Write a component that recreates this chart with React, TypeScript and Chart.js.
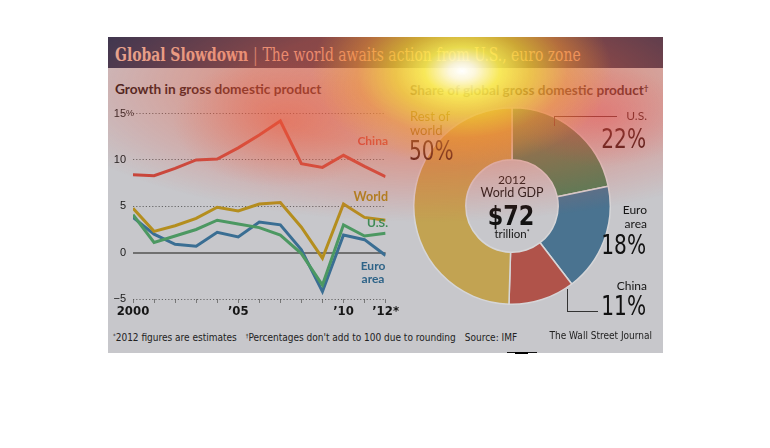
import React, { useEffect, useRef } from "react";
import { Chart, registerables } from "chart.js";

Chart.register(...registerables);

// ---------- data ----------
const years = [2000, 2001, 2002, 2003, 2004, 2005, 2006, 2007, 2008, 2009, 2010, 2011, 2012];
const chinaGrowth = [8.4, 8.3, 9.1, 10.0, 10.1, 11.3, 12.7, 14.2, 9.6, 9.2, 10.5, 9.3, 8.2];
const worldGrowth = [4.8, 2.3, 2.9, 3.7, 4.9, 4.5, 5.25, 5.4, 2.75, -0.6, 5.25, 3.8, 3.5];
const usGrowth = [4.1, 1.1, 1.8, 2.5, 3.5, 3.1, 2.7, 1.9, -0.1, -3.5, 3.0, 1.8, 2.1];
const euroGrowth = [3.8, 2.0, 0.9, 0.7, 2.2, 1.7, 3.3, 3.0, 0.3, -4.2, 1.9, 1.4, -0.3];

const yTickValues = [-5, 0, 5, 10, 15];
const yTickLabels = ["\u22125", "0", "5", "10", "15"];
const xLabelYears = [2000, 2005, 2010, 2012];
const xLabelTexts = ["2000", "\u201905", "\u201910", "\u201912*"];

const shareLabels = ["U.S.", "Euro area", "China", "Rest of world"];
const shareValues = [22, 18, 11, 50];
const worldGdpTrillions = 72;

// ---------- styles ----------
const LINE_COLORS = { china: "#c8463b", world: "#b48e1e", us: "#4c9862", euro: "#3a6e93" };
const SLICE_COLORS = ["#4f7e57", "#4a7390", "#b0534a", "#c2a352"];
const SANS = "Lato, 'Open Sans', 'Noto Sans', sans-serif";
const NARROW = "'Liberation Sans Narrow', 'DejaVu Sans Condensed', 'Roboto', sans-serif";
const REG = "'Liberation Sans', Arial, sans-serif";
const SLAB = "'DejaVu Serif Condensed', 'DejaVu Serif', serif";

const OX = 108;
const OY = 37;

type TxtProps = {
  x: number;
  y: number; // baseline, page coords
  size: number;
  children: React.ReactNode;
  weight?: number;
  color?: string;
  align?: "left" | "right" | "center";
  font?: string;
  ls?: number;
  sx?: number;
};

function Txt({ x, y, size, children, weight = 400, color = "#1b1b1b", align = "left", font = SANS, ls, sx }: TxtProps) {
  let tx = align === "right" ? "translateX(-100%)" : align === "center" ? "translateX(-50%)" : "";
  if (sx) tx += ` scaleX(${sx})`;
  const origin = align === "right" ? "right" : align === "center" ? "center" : "left";
  return (
    <div
      style={{
        position: "absolute",
        left: x - OX,
        top: y - OY - 0.88 * size,
        fontSize: size,
        lineHeight: `${size}px`,
        fontFamily: font,
        fontWeight: weight,
        color,
        whiteSpace: "nowrap",
        transform: tx || "none",
        transformOrigin: `${origin} center`,
        letterSpacing: ls,
        textAlign: align,
      }}
    >
      {children}
    </div>
  );
}

function LineChart() {
  const ref = useRef<HTMLCanvasElement | null>(null);
  useEffect(() => {
    if (!ref.current) return;
    const percentPlugin = {
      id: "percentSign",
      afterDraw(chart: any) {
        const y = chart.scales.y;
        const ctx = chart.ctx;
        ctx.save();
        ctx.font = `9px ${REG}`;
        ctx.fillStyle = "#1b1b1b";
        ctx.textAlign = "left";
        ctx.textBaseline = "middle";
        ctx.fillText("%", chart.chartArea.left - 7, y.getPixelForValue(15) - 0.5);
        ctx.restore();
      },
    };
    const mk = (data: number[], color: string) => ({
      data: years.map((yr, i) => ({ x: yr, y: data[i] })),
      borderColor: color,
      borderWidth: 3,
      pointRadius: 0,
      tension: 0,
      fill: false,
      borderJoinStyle: "miter" as const,
    });
    const chart = new Chart(ref.current, {
      type: "line",
      data: {
        datasets: [
          mk(chinaGrowth, LINE_COLORS.china),
          mk(worldGrowth, LINE_COLORS.world),
          mk(usGrowth, LINE_COLORS.us),
          mk(euroGrowth, LINE_COLORS.euro),
        ],
      },
      options: {
        animation: false,
        responsive: false,
        maintainAspectRatio: false,
        events: [],
        layout: { padding: { top: 11, right: 10, left: 0, bottom: 0 } },
        plugins: { legend: { display: false }, tooltip: { enabled: false } },
        scales: {
          x: {
            type: "linear",
            min: years[0],
            max: years[years.length - 1],
            afterFit: (s: any) => {
              s.height = 23;
            },
            afterBuildTicks: (s: any) => {
              s.ticks = years.map((v) => ({ value: v }));
            },
            ticks: {
              autoSkip: false,
              maxRotation: 0,
              padding: 1,
              color: "#161616",
              font: { family: NARROW, size: 13, weight: "bold" },
              callback: (v: any) => {
                const i = xLabelYears.indexOf(Number(v));
                return i >= 0 ? xLabelTexts[i] : "";
              },
            },
            grid: {
              drawOnChartArea: false,
              drawTicks: true,
              tickLength: 4,
              tickColor: "#777",
              tickWidth: 1,
            },
            border: { display: false },
          },
          y: {
            min: -5,
            max: 15,
            afterFit: (s: any) => {
              s.width = 25;
            },
            afterBuildTicks: (s: any) => {
              s.ticks = yTickValues.map((v) => ({ value: v }));
            },
            ticks: {
              padding: 7,
              color: "#1b1b1b",
              font: { family: REG, size: 11 },
              callback: (v: any) => {
                const i = yTickValues.indexOf(Number(v));
                return i >= 0 ? yTickLabels[i] : "";
              },
            },
            grid: {
              drawTicks: false,
              color: (c: any) => (c.tick && c.tick.value === 0 ? "#707070" : "rgba(85,85,85,0.85)"),
              lineWidth: (c: any) => (c.tick && c.tick.value === 0 ? 2 : 1),
            },
            border: {
              display: false,
              dash: (c: any) => (c.tick && c.tick.value === 0 ? [] : [1.2, 2]),
            },
          },
        },
      },
      plugins: [percentPlugin],
    } as any);
    return () => chart.destroy();
  }, []);
  return (
    <canvas
      ref={ref}
      width={292}
      height={222}
      style={{ position: "absolute", left: 108 - OX, top: 100 - OY, width: 292, height: 222 }}
    />
  );
}

function Donut() {
  const ref = useRef<HTMLCanvasElement | null>(null);
  useEffect(() => {
    if (!ref.current) return;
    const chart = new Chart(ref.current, {
      type: "doughnut",
      data: {
        labels: shareLabels,
        datasets: [
          {
            data: shareValues,
            backgroundColor: SLICE_COLORS,
            borderColor: "#d6d6d8",
            borderWidth: 1.5,
          },
        ],
      },
      options: {
        animation: false,
        responsive: false,
        maintainAspectRatio: false,
        events: [],
        cutout: "47%",
        layout: { padding: 0 },
        plugins: { legend: { display: false }, tooltip: { enabled: false } },
      },
    } as any);
    return () => chart.destroy();
  }, []);
  return (
    <canvas
      ref={ref}
      width={198}
      height={198}
      style={{ position: "absolute", left: 413 - OX, top: 107 - OY, width: 198, height: 198 }}
    />
  );
}

export default function App() {
  const sup = { fontSize: "0.6em", verticalAlign: "0.5em" } as React.CSSProperties;
  return (
    <>
      <div
        style={{
          position: "absolute",
          left: OX,
          top: OY,
          width: 555,
          height: 316,
          background: "#c7c7cb",
          overflow: "hidden",
        }}
      >
        {/* header */}
        <div style={{ position: "absolute", left: 0, top: 0, width: 555, height: 31, background: "#2c3350" }} />
        <Txt x={115} y={62} size={18} font={SLAB} color="#e7b29a" weight={700} sx={0.86}>
          Global Slowdown <span style={{ fontWeight: 400, opacity: 0.8 }}>|</span>{" "}
          <span style={{ fontWeight: 400 }}>The world awaits action from U.S., euro zone</span>
        </Txt>

        {/* section titles */}
        <Txt x={115} y={94} size={13.7} weight={700} color="#2a1616">
          Growth in gross domestic product
        </Txt>
        <Txt x={410} y={94} size={13.6} weight={700} color="#2a1616">
          Share of global gross domestic product<span style={sup}>†</span>
        </Txt>

        <LineChart />

        {/* line labels */}
        <Txt x={388} y={146} size={12} weight={700} color={LINE_COLORS.china} align="right">
          China
        </Txt>
        <Txt x={388} y={202} size={12.5} weight={700} color="#a8841a" align="right">
          World
        </Txt>
        <Txt x={388} y={228} size={12} weight={700} color="#3f8a56" align="right">
          U.S.
        </Txt>
        <Txt x={373} y={271} size={12} weight={700} color="#2f6488" align="center">
          Euro
        </Txt>
        <Txt x={373} y={284} size={12} weight={700} color="#2f6488" align="center">
          area
        </Txt>

        <Donut />

        {/* donut center */}
        <Txt x={512} y={185} size={12} align="center" color="#161616">
          2012
        </Txt>
        <Txt x={512} y={198} size={12.5} align="center" color="#161616">
          World GDP
        </Txt>
        <Txt x={511} y={226} size={27} weight={700} align="center" color="#111" font={NARROW} sx={0.92}>
          ${worldGdpTrillions}
        </Txt>
        <Txt x={512} y={237} size={11.5} align="center" color="#161616">
          trillion<span style={sup}>*</span>
        </Txt>

        {/* donut labels */}
        <Txt x={410} y={121} size={13} color="#7d6800">
          Rest of
        </Txt>
        <Txt x={410} y={135} size={13} color="#6e5600">
          world
        </Txt>
        <Txt x={409} y={161} size={26} color="#1a0404" font={NARROW} sx={0.86}>
          {shareValues[3]}%
        </Txt>

        <Txt x={647} y={121} size={12} color="#2a1010" align="right">
          {shareLabels[0]}
        </Txt>
        <Txt x={646} y={149} size={26} color="#220a0a" align="right" font={NARROW} sx={0.86}>
          {shareValues[0]}%
        </Txt>

        <Txt x={647} y={215} size={12} color="#161616" align="right">
          Euro
        </Txt>
        <Txt x={647} y={229} size={12} color="#161616" align="right">
          area
        </Txt>
        <Txt x={646} y={255} size={26} color="#111" align="right" font={NARROW} sx={0.86}>
          {shareValues[1]}%
        </Txt>

        <Txt x={647} y={291} size={12} color="#161616" align="right">
          {shareLabels[2]}
        </Txt>
        <Txt x={646} y={316} size={26} color="#111" align="right" font={NARROW} sx={0.86}>
          {shareValues[2]}%
        </Txt>

        {/* leader lines */}
        <div style={{ position: "absolute", left: 554 - OX, top: 116 - OY, width: 63, height: 1, background: "#3a2020" }} />
        <div style={{ position: "absolute", left: 554 - OX, top: 116 - OY, width: 1, height: 10, background: "#3a2020" }} />
        <div style={{ position: "absolute", left: 567 - OX, top: 289 - OY, width: 1, height: 23, background: "#333" }} />
        <div style={{ position: "absolute", left: 567 - OX, top: 311 - OY, width: 31, height: 1, background: "#333" }} />

        {/* footnotes */}
        <Txt x={113} y={340} size={10} font={NARROW} color="#222">
          <span style={sup}>*</span>2012 figures are estimates{"\u2003"}
          <span style={sup}>†</span>Percentages don't add to 100 due to rounding{"\u2003"}Source: IMF
        </Txt>
        <Txt x={652} y={340} size={10} font={NARROW} color="#222" align="right">
          The Wall Street Journal
        </Txt>

        {/* attention heat overlay */}
        <div
          style={{
            position: "absolute",
            inset: 0,
            pointerEvents: "none",
            background: [
              "radial-gradient(ellipse 150px 95px at 354px 34px, rgba(255,255,255,1) 0%, rgba(255,255,225,0.93) 9%, rgba(255,255,80,0.8) 25%, rgba(248,230,40,0.6) 45%, rgba(245,165,45,0.4) 70%, rgba(240,110,60,0) 100%)",
              "radial-gradient(ellipse 110px 65px at 175px 85px, rgba(240,80,50,0.4) 0%, rgba(240,80,50,0) 100%)",
              "radial-gradient(ellipse 90px 50px at 495px 80px, rgba(235,70,80,0.35) 0%, rgba(235,70,80,0) 100%)",
              "radial-gradient(ellipse 400px 135px at 320px 50px, rgba(238,95,65,0.58) 0%, rgba(238,95,65,0.48) 45%, rgba(236,90,75,0.18) 80%, rgba(236,90,75,0) 100%)",
            ].join(","),
          }}
        />
      </div>
      <div style={{ position: "absolute", left: 507, top: 352, width: 30, height: 1, background: "#111" }} />
      <div style={{ position: "absolute", left: 515, top: 352, width: 13, height: 2, background: "#000" }} />
    </>
  );
}
